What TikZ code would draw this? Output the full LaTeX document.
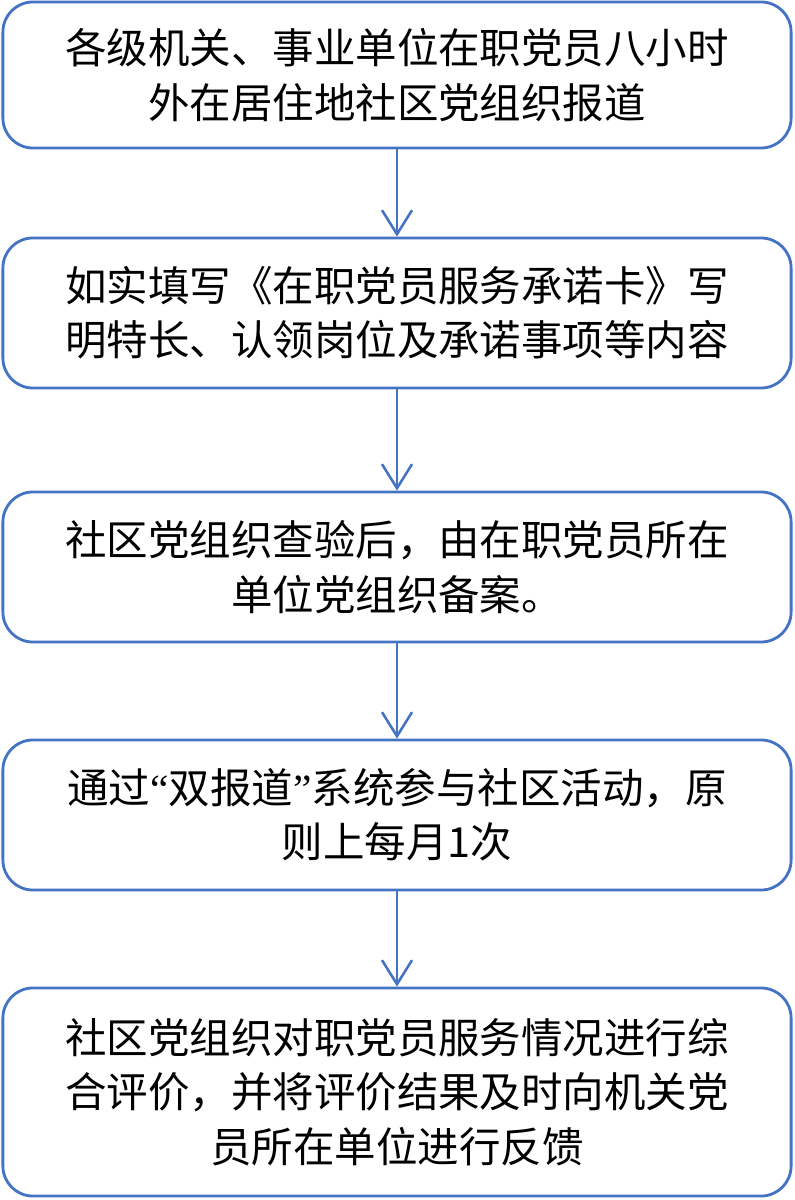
\documentclass[tikz,border=0pt]{standalone}
\usepackage{fontspec}
\setmainfont{Noto Sans CJK SC}
\newfontfamily\quotefont{Liberation Serif}
\usepackage{xcolor}
\usetikzlibrary{arrows.meta, shapes.misc}
\definecolor{stepblue}{HTML}{4472C4}
\tikzset{
    stepbox/.style={draw=stepblue, line width=2pt, rounded corners=0.75cm,
        minimum width=19.7cm, align=center, text width=18.5cm,
        font=\fontsize{29.5pt}{38.6pt}\selectfont, inner sep=0pt},
    flow/.style={draw=stepblue, line width=1.8pt,
        -{Straight Barb[length=0.6cm, width=0.75cm, line width=1.8pt]}}
}
\begin{document}
\begin{tikzpicture}[x=0.025cm, y=-0.025cm]
        \useasboundingbox (0,0) rectangle (794,1200);
        \node[stepbox, minimum height=3.65cm] (report) at (397,75)
            {各级机关、事业单位在职党员八小时\\外在居住地社区党组织报道};
        \node[stepbox, minimum height=3.75cm] (card) at (397,313)
            {如实填写《在职党员服务承诺卡》写\\明特长、认领岗位及承诺事项等内容};
        \node[stepbox, minimum height=3.75cm] (check) at (397,567)
            {社区党组织查验后，由在职党员所在\\单位党组织备案。};
        \node[stepbox, minimum height=3.75cm] (activity) at (397,815)
            {通过{\quotefont “}双报道{\quotefont ”}系统参与社区活动，原\\则上每月1次};
        \node[stepbox, minimum height=5.2cm] (review) at (397,1092)
            {社区党组织对职党员服务情况进行综\\合评价，并将评价结果及时向机关党\\员所在单位进行反馈};
        \draw[flow] (report) -- (card);
        \draw[flow] (card) -- (check);
        \draw[flow] (check) -- (activity);
        \draw[flow] (activity) -- (review);
    \end{tikzpicture}
\end{document}
